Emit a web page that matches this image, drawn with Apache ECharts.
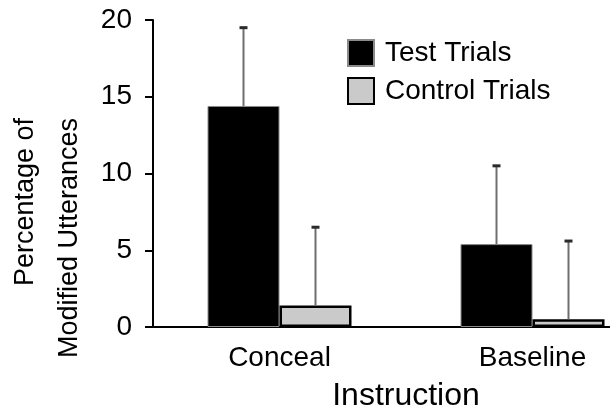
<!DOCTYPE html>
<html><head><meta charset="utf-8">
<script src="https://cdn.jsdelivr.net/npm/echarts@6/dist/echarts.min.js"></script>
<style>html,body{margin:0;padding:0;background:#fff;overflow:hidden}#c{width:659px;height:414px}</style>
</head><body><div id="c"></div>
<script>
const categories = ['Conceal', 'Baseline'];
const testTrials = [14.4, 5.4];
const controlTrials = [1.4, 0.5];
const testErrTop = [19.5, 10.5];
const controlErrTop = [6.5, 5.6];
const yTicks = [0, 5, 10, 15, 20];

const BAR_W = 72;
const FONT = '"Liberation Sans", Arial, Helvetica, sans-serif';
const NARROW = '"Liberation Sans Narrow", "Arial Narrow", "Liberation Sans", sans-serif';

function errSeries(name, values, tops, side) {
  return {
    type: 'custom', name: name, z: 5,
    data: categories.map((c, i) => [i, values[i], tops[i]]),
    renderItem: function (params, api) {
      const i = api.value(0);
      const p0 = api.coord([i, api.value(1)]);
      const p1 = api.coord([i, api.value(2)]);
      const x = p0[0] + side * BAR_W / 2;
      return {
        type: 'group',
        children: [
          { type: 'line', shape: { x1: x, y1: p0[1], x2: x, y2: p1[1] },
            style: { stroke: '#6e6e6e', lineWidth: 2 } },
          { type: 'line', shape: { x1: x - 4, y1: p1[1], x2: x + 4, y2: p1[1] },
            style: { stroke: '#2a2a2a', lineWidth: 3 } }
        ]
      };
    }
  };
}

const chart = echarts.init(document.getElementById('c'), null, { renderer: 'canvas' });
chart.setOption({
  animation: false,
  backgroundColor: '#fff',
  textStyle: { fontFamily: FONT },
  grid: { left: 153, top: 20, right: 0, bottom: 87, containLabel: false, outerBoundsMode: 'none' },
  legend: {
    data: ['Test Trials', 'Control Trials'],
    orient: 'vertical', left: 347, top: 39, padding: 0,
    itemWidth: 26, itemHeight: 26, itemGap: 10,
    icon: 'rect',
    textStyle: { fontSize: 28, color: '#000', fontFamily: FONT, padding: [0, 0, 0, 6] }
  },
  xAxis: {
    type: 'category', data: categories,
    name: 'Instruction', nameLocation: 'middle', nameGap: 53,
    nameTextStyle: { fontSize: 32, color: '#000', fontFamily: FONT },
    axisLine: { lineStyle: { color: '#000', width: 2 } },
    axisTick: { show: false },
    axisLabel: { fontSize: 28, color: '#000', margin: 17, fontFamily: FONT }
  },
  yAxis: {
    type: 'value', min: yTicks[0], max: yTicks[yTicks.length - 1], interval: 5,
    axisLine: { show: true, lineStyle: { color: '#000', width: 2 } },
    axisTick: { show: true, length: 8, lineStyle: { color: '#000', width: 2 } },
    splitLine: { show: false },
    axisLabel: { fontSize: 28, color: '#000', margin: 21, fontFamily: FONT }
  },
  graphic: [
    { type: 'text', x: 26, y: 118, rotation: Math.PI / 2,
      style: { text: 'Percentage of', fontSize: 27, fontFamily: NARROW, fill: '#000', textAlign: 'right', textVerticalAlign: 'middle' } },
    { type: 'text', x: 70, y: 118, rotation: Math.PI / 2,
      style: { text: 'Modified Utterances', fontSize: 27, fontFamily: NARROW, fill: '#000', textAlign: 'right', textVerticalAlign: 'middle' } }
  ],
  series: [
    { type: 'bar', name: 'Test Trials', data: testTrials, barWidth: BAR_W, barGap: '0%',
      itemStyle: { color: '#000', borderColor: '#8a8a8a', borderWidth: 1 } },
    { type: 'bar', name: 'Control Trials', data: controlTrials, barWidth: BAR_W, barGap: '0%',
      itemStyle: { color: '#cacaca', borderColor: '#000', borderWidth: 2.5 } },
    errSeries('Test error', testTrials, testErrTop, -1),
    errSeries('Control error', controlTrials, controlErrTop, 1)
  ]
});
</script></body></html>
